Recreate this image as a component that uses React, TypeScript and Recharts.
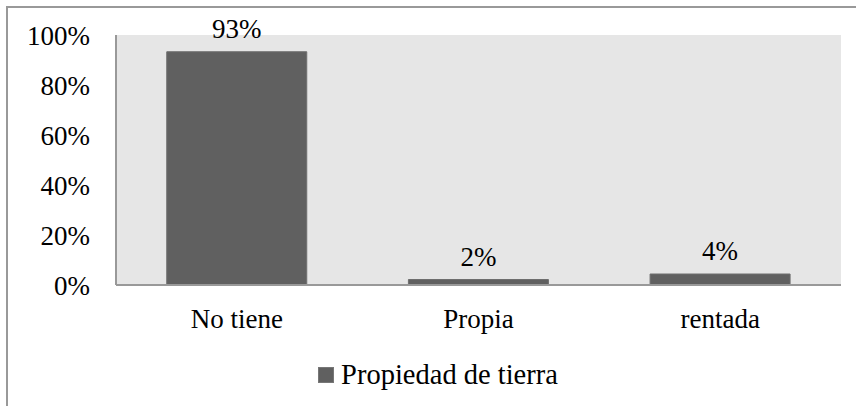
import React from 'react'
import {BarChart, Bar, XAxis, YAxis, CartesianGrid, Legend, LabelList} from 'recharts'

const categories = ['No tiene', 'Propia', 'rentada']
const values = [93.3, 2.2, 4.4]
const yTicks = [0, 20, 40, 60, 80, 100]
const seriesName = 'Propiedad de tierra'

const data = categories.map((c, i) => ({name: c, value: values[i]}))

const font = '"Liberation Serif", serif'
const fs = 27

function LegendBox() {
  return (
    <div style={{display: 'flex', justifyContent: 'center', alignItems: 'center', height: 40, paddingLeft: 35, fontFamily: font, fontSize: 28.5, color: '#000'}}>
      <span style={{display: 'inline-block', width: 14, height: 14, background: '#606060', border: '1px solid #777', marginRight: 7}} />
      <span>{seriesName}</span>
    </div>
  )
}

export default function App() {
  return (
    <div style={{position: 'absolute', left: 0, top: 0, width: 856, height: 406, background: '#fff', overflow: 'hidden'}}>
      <div style={{position: 'absolute', left: 6, top: 6, width: 900, height: 500, borderTop: '2px solid #999', borderLeft: '2px solid #999'}} />
      <BarChart width={856} height={406} data={data} margin={{top: 35, right: 15, left: 0, bottom: 11}} barCategoryGap="21%">
        <CartesianGrid fill="#e6e6e6" stroke="none" horizontal={false} vertical={false} />
        <XAxis dataKey="name" height={70} tickLine={false} tickSize={0} tickMargin={24}
          axisLine={{stroke: '#999', strokeWidth: 2}}
          tick={{fill: '#000', fontSize: fs, fontFamily: font}} />
        <YAxis width={116} domain={[0, 100]} ticks={yTicks} tickLine={false} tickSize={0} tickMargin={26}
          tickFormatter={(v) => v + '%'}
          axisLine={{stroke: '#999', strokeWidth: 2}}
          tick={{fill: '#000', fontSize: fs, fontFamily: font}} />
        <Legend verticalAlign="bottom" content={() => <LegendBox />} />
        <Bar dataKey="value" name={seriesName} fill="#606060" stroke="#6e6e6e" strokeWidth={1} isAnimationActive={false}>
          <LabelList dataKey="value" position="top" offset={14} formatter={(v: any) => Math.round(Number(v)) + '%'}
            style={{fill: '#000', fontSize: fs, fontFamily: font}} />
        </Bar>
      </BarChart>
    </div>
  )
}
